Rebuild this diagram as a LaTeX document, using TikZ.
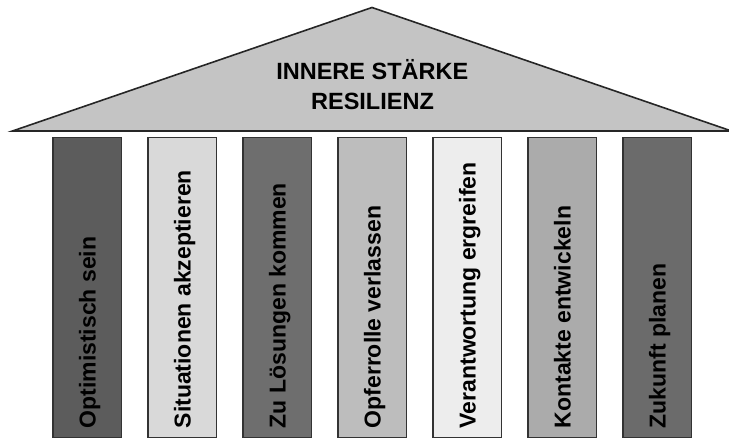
\documentclass[tikz,border=0pt]{standalone}
\usepackage{fontspec}
\setmainfont{Liberation Sans}
\usetikzlibrary{calc}
\begin{document}
\begin{tikzpicture}[x=1pt,y=1pt,
  pillar/.style={draw=black!80,line width=1.3pt},
  ptext/.style={rotate=90,anchor=base west,inner sep=0pt,font=\fontsize{23}{27}\selectfont\bfseries},
  rooftext/.style={anchor=base,inner sep=0pt,font=\fontsize{23.5}{28}\selectfont\bfseries}]
\useasboundingbox (0,0) rectangle (729,441);
\definecolor{c1}{gray}{0.36}
\definecolor{c2}{gray}{0.85}
\definecolor{c3}{gray}{0.43}
\definecolor{c4}{gray}{0.74}
\definecolor{c5}{gray}{0.93}
\definecolor{c6}{gray}{0.67}
\definecolor{c7}{gray}{0.42}
\definecolor{roofc}{gray}{0.77}
% roof
\coordinate (rl) at (12.5,310);
\coordinate (rr) at (731.5,310);
\coordinate (ra) at (372,433.5);
\draw[fill=roofc,draw=black!85,line width=1.6pt,line join=miter] (rl) -- (ra) -- (rr) -- cycle;
\node[rooftext] (t1) at (372.3,361) {INNERE STÄRKE};
\node[rooftext] (t2) at (372.5,331.7) {RESILIENZ};
% pillars
\foreach \i/\c/\t in {0/c1/Optimistisch sein,1/c2/Situationen akzeptieren,2/c3/Zu Lösungen kommen,3/c4/Opferrolle verlassen,4/c5/Verantwortung ergreifen,5/c6/Kontakte entwickeln,6/c7/Zukunft planen}{
  \pgfmathsetmacro{\L}{52.3+95*\i}
  \node[pillar,fill=\c,minimum width=68.5pt,minimum height=300pt,inner sep=0pt,anchor=south west] (p\i) at (\L,3) {};
  \node[ptext] (l\i) at ($(p\i.south)+(8.3,9.5)$) {\t};
}
\end{tikzpicture}
\end{document}
